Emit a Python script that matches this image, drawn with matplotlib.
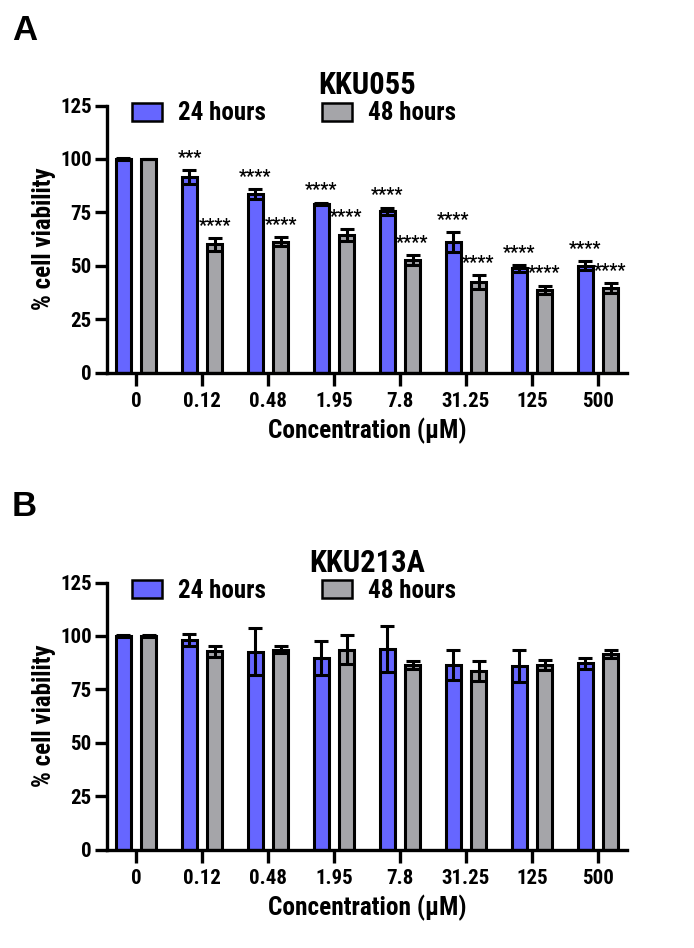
import matplotlib
matplotlib.use("Agg")
import matplotlib.pyplot as plt
import numpy as np

FONT = ['Roboto Condensed', 'Liberation Sans', 'DejaVu Sans']
plt.rcParams['font.family'] = FONT
plt.rcParams['font.weight'] = 'bold'

concentrations = ["0", "0.12", "0.48", "1.95", "7.8", "31.25", "125", "500"]
series_names = ["24 hours", "48 hours"]

kku055_24h = [100, 91.5, 83.5, 79.0, 75.4, 61.0, 48.7, 50.0]
kku055_24h_err = [0.3, 3.2, 2.5, 0.5, 1.8, 4.7, 1.5, 2.0]
kku055_48h = [100, 60.0, 61.3, 64.3, 52.7, 42.3, 38.7, 39.5]
kku055_48h_err = [0.0, 3.0, 2.0, 2.7, 2.2, 3.2, 2.0, 2.2]
kku055_24h_sig = ["", "***", "****", "****", "****", "****", "****", "****"]
kku055_48h_sig = ["", "****", "****", "****", "****", "****", "****", "****"]

kku213a_24h = [100, 98.2, 92.5, 89.7, 93.8, 86.3, 85.7, 87.2]
kku213a_24h_err = [0.3, 2.8, 11.0, 8.0, 10.8, 6.9, 7.5, 2.5]
kku213a_48h = [100, 92.8, 93.6, 93.5, 86.5, 83.4, 86.3, 91.6]
kku213a_48h_err = [0.3, 2.7, 1.6, 6.8, 1.8, 4.7, 2.3, 2.0]

yticks = [0, 25, 50, 75, 100, 125]

BLUE = "#6666FF"
GREY = "#A5A5A9"

fig = plt.figure(figsize=(6.94, 9.48), dpi=100)

W, H = 694, 948
def axrect(left, right, top, bottom):
    return [left / W, 1 - bottom / H, (right - left) / W, (bottom - top) / H]

def panel(rect, title, letter, letter_y, title_y, v24, e24, v48, e48, s24=None, s48=None):
    ax = fig.add_axes(rect)
    x = np.arange(len(concentrations))
    off, bw = 0.19, 0.22
    lw = 2.2
    for vals, errs, dx, col, name in [(v24, e24, -off, BLUE, series_names[0]), (v48, e48, off, GREY, series_names[1])]:
        ax.bar(x + dx, vals, width=bw, color=col, edgecolor='black', linewidth=lw, label=name, zorder=2)
        ax.errorbar(x + dx, vals, yerr=errs, fmt='none', ecolor='black', elinewidth=lw,
                    capsize=5, capthick=lw, zorder=3)
    if s24 is not None:
        for sig, vals, errs, dx in [(s24, v24, e24, -off), (s48, v48, e48, off)]:
            for i, s in enumerate(sig):
                if s:
                    ax.text(x[i] + dx, vals[i] + errs[i] + 1.5, s, ha='center', va='bottom',
                            fontsize=13, fontweight='bold', family=FONT)
    ax.set_xlim(-0.44, 7.44)
    ax.set_ylim(0, 125)
    ax.set_yticks(yticks)
    ax.set_yticklabels([str(t) for t in yticks], fontsize=15, fontweight='bold')
    ax.set_xticks(x)
    ax.set_xticklabels(concentrations, fontsize=15, fontweight='bold')
    for sp in ['top', 'right']:
        ax.spines[sp].set_visible(False)
    for sp in ['left', 'bottom']:
        ax.spines[sp].set_linewidth(2.4)
    ax.tick_params(axis='both', width=2.4, length=9, pad=2)
    ax.tick_params(axis='x', pad=5)
    ax.set_ylabel("% cell viability", fontsize=18, fontweight='bold', labelpad=3)
    ax.set_xlabel("Concentration (μM)", fontsize=18.3, fontweight='bold', labelpad=5)
    leg = ax.legend(loc='center left', bbox_to_anchor=((132 - 107) / 520, 1 - 8 / 267), ncol=2,
                    frameon=False, handlelength=1.2, handleheight=0.72, columnspacing=2.24,
                    handletextpad=0.64, borderpad=0, borderaxespad=0,
                    prop={'weight': 'bold', 'size': 18, 'family': FONT})
    for h in leg.legend_handles:
        h.set_linewidth(1.8)
    fig.text(0.5 * (rect[0] * 2 + rect[2]), title_y, title, ha='center', va='center',
             fontsize=22, fontweight='bold')
    fig.text(12 / W, letter_y, letter, ha='left', va='center', fontsize=25, fontweight='bold',
             family=['Liberation Sans', 'DejaVu Sans'])
    return ax

panel(axrect(107, 627, 105.5, 372.5), "KKU055", "A", 1 - 30 / H, 1 - 85 / H,
      kku055_24h, kku055_24h_err, kku055_48h, kku055_48h_err, kku055_24h_sig, kku055_48h_sig)
panel(axrect(107, 627, 582.5, 849.5), "KKU213A", "B", 1 - 507 / H, 1 - 563 / H,
      kku213a_24h, kku213a_24h_err, kku213a_48h, kku213a_48h_err)

fig.savefig("out.png", dpi=100)
